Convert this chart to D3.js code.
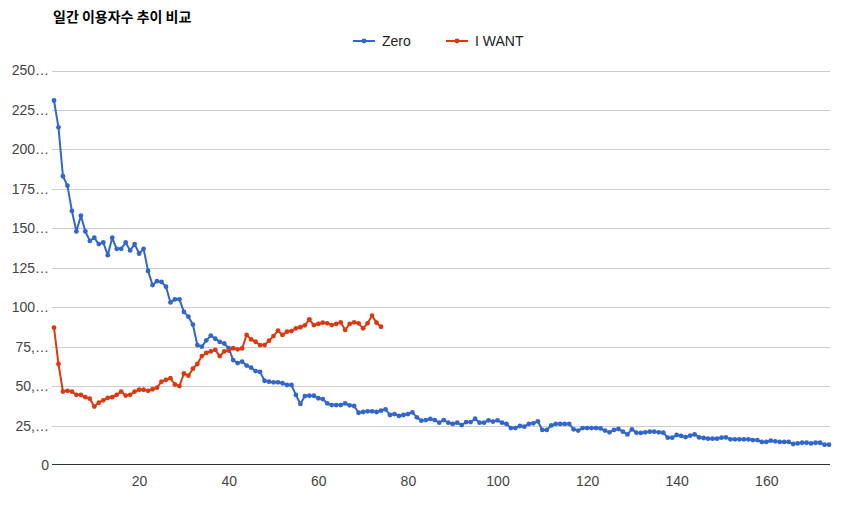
<!DOCTYPE html>
<html>
<head>
<meta charset="utf-8">
<script src="https://cdn.jsdelivr.net/npm/d3@7"></script>
<style>
  body { margin: 0; background: #fff; }
  svg { display: block; font-family: Arial, "Liberation Sans", sans-serif; }
</style>
</head>
<body>
<svg id="chart" width="850" height="509"></svg>
<script>
// daily users, day index starts at 1
const zeroValues = [
  231, 214, 183, 177, 161, 148, 158, 148, 142, 144,
  140, 141, 133, 144, 137, 137, 141, 136, 140, 134,
  137, 123, 114, 116.5, 116, 113, 103, 105, 105, 97,
  94, 89, 76, 75, 79, 82, 80, 78, 77, 74,
  66.5, 64.6, 65.5, 63, 61.7, 59.5, 59, 53.4, 52.8, 52.4,
  52.4, 51.8, 50.7, 50.7, 44.4, 38.7, 43.7, 43.9, 43.9, 42.3,
  41.8, 39, 38, 38, 38, 39, 37.8, 37.4, 33.1, 33.6,
  34, 34, 33.6, 34.4, 35.3, 31.7, 32.3, 31.1, 31.7, 32.3,
  33.4, 30.2, 28.1, 28.5, 29.2, 28.5, 26.8, 28.5, 26.8, 26,
  26.8, 25.3, 27.2, 27.2, 29.3, 26.8, 26.8, 28.3, 27.5, 28.3,
  26.8, 26, 23.4, 23.4, 24.7, 24.3, 26, 26.4, 27.7, 22.2,
  22.2, 25.1, 26, 26, 26, 26, 22.6, 21.8, 23.4, 23.4,
  23.4, 23.4, 23.2, 21.8, 20.7, 22.2, 22.8, 21.1, 19.4, 22.6,
  20.5, 20.3, 20.7, 21.1, 21.1, 20.7, 20.5, 17.3, 17.3, 19,
  18.4, 17.7, 18.6, 19.4, 17.5, 17.1, 16.7, 16.7, 16.7, 17.3,
  17.5, 16.3, 16.3, 16.3, 16.3, 16.3, 15.8, 15.8, 14.6, 14.6,
  15.4, 15, 14.6, 14.6, 14.6, 13.3, 13.7, 14.1, 14.1, 13.7,
  14.1, 14.1, 12.9, 12.9
];
const iwantValues = [
  87, 64, 46.5, 47, 46.5, 44.5, 44.5, 43, 42, 37,
  39.5, 41, 42.6, 43, 44.5, 46.5, 44, 44.5, 46.5, 47.7,
  47.7, 47, 48, 49, 52.8, 54, 55, 51, 50, 58,
  56.6, 61, 64, 69, 71, 72, 73, 69, 72, 72.5,
  74, 73.3, 73.9, 82.4, 79.6, 78.1, 76, 76, 78.8, 81.7,
  85.1, 82.4, 84.5, 84.9, 86.6, 87.3, 88.5, 92.3, 88.7, 89.4,
  90.2, 89.8, 88.7, 89.4, 90.4, 85.6, 89.4, 90.4, 89.8, 86.6,
  89.8, 94.6, 90.2, 87.6
];
const seriesNames = ["Zero", "I WANT"];
const seriesColors = ["#3366cc", "#dc3912"];
const xTicks = [20, 40, 60, 80, 100, 120, 140, 160];
const yTicks = [0, 25, 50, 75, 100, 125, 150, 175, 200, 225, 250];
const yTickLabels = ["0", "25,…", "50,…", "75,…", "100…", "125…", "150…", "175…", "200…", "225…", "250…"];
const title = "일간 이용자수 추이 비교";

const svg = d3.select("#chart");
const plot = { left: 54, right: 829, top: 70.5, bottom: 465 };

const x = d3.scaleLinear().domain([1, zeroValues.length]).range([plot.left, plot.right]);
const y = d3.scaleLinear().domain([0, 250]).range([plot.bottom, plot.top]);

// title
svg.append("text")
    .attr("x", 53).attr("y", 22)
    .style("font-family", "'Noto Sans CJK KR', sans-serif")
    .style("font-size", "14px")
    .style("font-weight", "bold")
    .attr("fill", "#000")
    .text(title);

// gridlines
svg.append("g")
    .selectAll("line")
    .data(yTicks.filter(d => d > 0))
    .join("line")
    .attr("x1", plot.left - 2).attr("x2", plot.right + 1)
    .attr("y1", d => Math.round(y(d)) + 0.5)
    .attr("y2", d => Math.round(y(d)) + 0.5)
    .attr("stroke", "#cccccc");

// y labels
const yAxis = d3.axisLeft(y)
    .tickValues(yTicks)
    .tickSize(0)
    .tickPadding(4)
    .tickFormat((d, i) => yTickLabels[i]);
const gy = svg.append("g").attr("transform", `translate(${plot.left - 1},0)`).call(yAxis);
gy.select(".domain").remove();
gy.selectAll("text").attr("fill", "#444").style("font-size", "14px").style("font-family", "Arial, 'Liberation Sans', sans-serif");

// x axis
const xAxis = d3.axisBottom(x).tickValues(xTicks).tickSize(0).tickPadding(11);
const gx = svg.append("g").attr("transform", `translate(0,${plot.bottom})`).call(xAxis);
gx.select(".domain").remove();
gx.selectAll("text").attr("fill", "#444").style("font-size", "14px").style("font-family", "Arial, 'Liberation Sans', sans-serif");

svg.append("line")
    .attr("x1", plot.left - 2).attr("x2", plot.right + 1)
    .attr("y1", Math.round(plot.bottom) - 0.5).attr("y2", Math.round(plot.bottom) - 0.5)
    .attr("stroke", "#333");

// series
const line = d3.line()
    .x((d, i) => x(i + 1))
    .y(d => y(d));

[zeroValues, iwantValues].forEach((vals, k) => {
    svg.append("path")
        .datum(vals)
        .attr("d", line)
        .attr("fill", "none")
        .attr("stroke", seriesColors[k])
        .attr("stroke-width", 2)
        .attr("stroke-linejoin", "round");
    svg.append("g")
        .selectAll("circle")
        .data(vals)
        .join("circle")
        .attr("cx", (d, i) => x(i + 1))
        .attr("cy", d => y(d))
        .attr("r", 2.4)
        .attr("fill", seriesColors[k]);
});

// legend
const legendX = [353, 446];
const legend = svg.append("g");
seriesNames.forEach((name, k) => {
    const g = legend.append("g").attr("transform", `translate(${legendX[k]},41)`);
    g.append("line").attr("x1", 0).attr("x2", 22).attr("y1", 0).attr("y2", 0)
        .attr("stroke", seriesColors[k]).attr("stroke-width", 2);
    g.append("circle").attr("cx", 11).attr("cy", 0).attr("r", 2.4).attr("fill", seriesColors[k]);
    g.append("text").attr("x", 29).attr("y", 5)
        .style("font-size", "14px")
        .attr("fill", "#222")
        .text(name);
});
</script>
</body>
</html>
